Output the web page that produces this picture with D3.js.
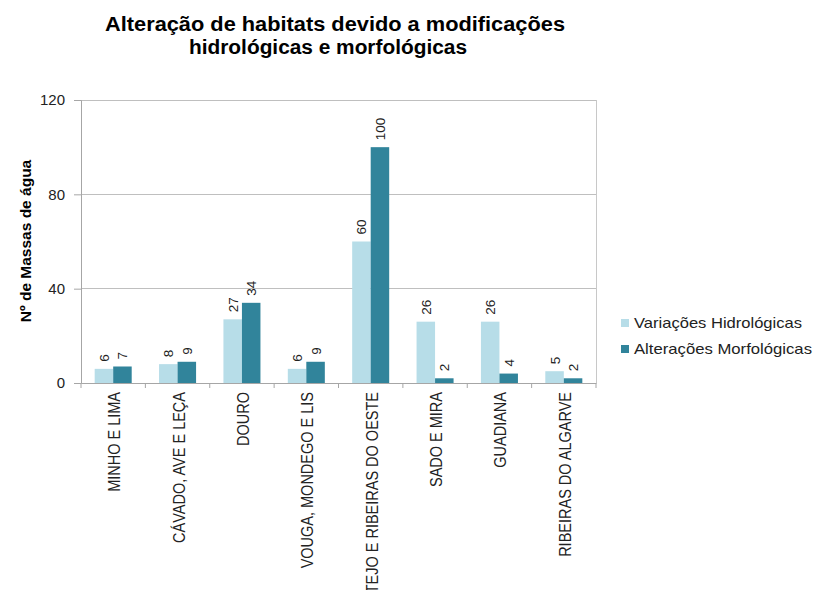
<!DOCTYPE html>
<html><head><meta charset="utf-8">
<script src="https://cdn.jsdelivr.net/npm/d3@7"></script>
<style>body{margin:0;background:#fff;}svg{display:block;font-family:"Liberation Sans",Arial,sans-serif;}</style>
</head><body><svg id="c" width="814" height="590"></svg>
<script>
const categories = ["MINHO E LIMA","CÁVADO, AVE E LEÇA","DOURO","VOUGA, MONDEGO E LIS","TEJO E RIBEIRAS DO OESTE","SADO E MIRA","GUADIANA","RIBEIRAS DO ALGARVE"];
const seriesNames = ["Variações Hidrológicas","Alterações Morfológicas"];
const variacoes = [6,8,27,6,60,26,26,5];
const alteracoes = [7,9,34,9,100,2,4,2];
const yTicks = [0,40,80,120];
const colors = ["#B7DDE8","#31849B"];
const titleLines = ["Alteração de habitats devido a modificações","hidrológicas e morfológicas"];
const yTitle = "Nº de Massas de água";

const svg = d3.select("#c");
const L = 81, R = 596, T = 100, B = 383;
const x = d3.scaleBand().domain(categories).range([L,R]).paddingInner(0.425).paddingOuter(0.2125);
const x1 = d3.scaleBand().domain([0,1]).range([0,x.bandwidth()]);
const y = d3.scaleLinear().domain([0,120]).range([B,T]);

// gridlines
svg.append("g").selectAll("line").data(yTicks.filter(d=>d>0)).join("line")
  .attr("x1",L).attr("x2",R).attr("y1",d=>y(d)).attr("y2",d=>y(d))
  .attr("stroke","#BFBFBF").attr("stroke-width",1).attr("shape-rendering","crispEdges");
// right border
svg.append("line").attr("x1",R).attr("x2",R).attr("y1",T).attr("y2",B)
  .attr("stroke","#C8C8C8").attr("shape-rendering","crispEdges");

const series = [variacoes, alteracoes];
series.forEach((vals,si)=>{
  svg.append("g").selectAll("rect").data(vals).join("rect")
    .attr("x",(d,i)=>x(categories[i])+x1(si))
    .attr("width",x1.bandwidth())
    .attr("y",d=>y(d)).attr("height",d=>B-y(d))
    .attr("fill",colors[si]);
  svg.append("g").selectAll("text").data(vals).join("text")
    .attr("transform",(d,i)=>`translate(${x(categories[i])+x1(si)+x1.bandwidth()/2+5},${y(d)-7}) rotate(-90)`)
    .attr("font-size",13.5).attr("fill","#222").text(d=>d);
});

// y axis
const yAxis = d3.axisLeft(y).tickValues(yTicks).tickSize(7).tickPadding(9);
const gy = svg.append("g").attr("transform",`translate(${L},0)`).call(yAxis);
gy.select(".domain").attr("stroke","#A6A6A6");
gy.selectAll(".tick line").attr("stroke","#A6A6A6");
gy.selectAll("text").attr("font-size",15).attr("fill","#222").attr("font-family","Liberation Sans, Arial, sans-serif");

// x axis
const xAxis = d3.axisBottom(x).tickSize(0).tickFormat("");
const gx = svg.append("g").attr("transform",`translate(0,${B})`).call(xAxis);
gx.select(".domain").attr("stroke","#A6A6A6");
const bounds = categories.map(c=>x(c)-x.step()*x.paddingInner()/2).concat([R]);
gx.selectAll(".bt").data(bounds).join("line").attr("class","bt")
  .attr("x1",d=>d).attr("x2",d=>d).attr("y1",0).attr("y2",5).attr("stroke","#A6A6A6");

svg.append("g").selectAll("text").data(categories).join("text")
  .attr("transform",d=>`translate(${x(d)+x.bandwidth()/2+7},${B+9}) rotate(-90) scale(1,1.1)`)
  .attr("text-anchor","end").attr("font-size",14.5).attr("fill","#222").text(d=>d);

// y title
svg.append("text").attr("transform",`translate(31,241) rotate(-90)`)
  .attr("text-anchor","middle").attr("font-size",15.5).attr("font-weight","bold").attr("fill","#000").text(yTitle);

// title
const titleWidths = [460, 278];
const titleCx = [335, 328];
svg.append("g").selectAll("text").data(titleLines).join("text")
  .attr("x",(d,i)=>titleCx[i]).attr("y",(d,i)=>31+i*23).attr("text-anchor","middle")
  .attr("textLength",(d,i)=>titleWidths[i]).attr("lengthAdjust","spacingAndGlyphs")
  .attr("font-size",19.5).attr("font-weight","bold").attr("fill","#000").text(d=>d);

// legend
const lg = svg.append("g");
seriesNames.forEach((n,i)=>{
  lg.append("rect").attr("x",621).attr("y",319+i*26).attr("width",8).attr("height",8).attr("fill",colors[i]);
  lg.append("text").attr("x",634).attr("y",328+i*26).attr("font-size",14.5)
    .attr("textLength",i===0?168:178).attr("lengthAdjust","spacingAndGlyphs")
    .attr("fill","#222").text(n);
});
</script></body></html>
